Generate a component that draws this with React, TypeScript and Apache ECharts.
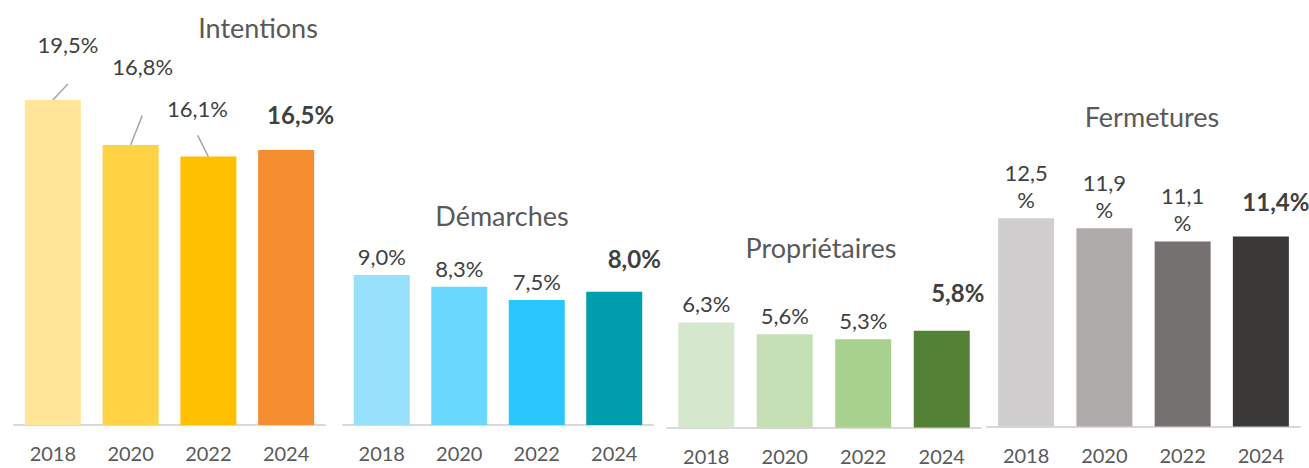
import React, { useEffect, useRef } from "react";
import * as echarts from "echarts";

// ---- Data ----
const years = ["2018", "2020", "2022", "2024"];
const intentions = [19.5, 16.8, 16.1, 16.5];
const demarches = [9.0, 8.3, 7.5, 8.0];
const proprietaires = [6.3, 5.6, 5.3, 5.8];
const fermetures = [12.5, 11.9, 11.1, 11.4];
const panelTitles = ["Intentions", "Démarches", "Propriétaires", "Fermetures"];
const panelValues = [intentions, demarches, proprietaires, fermetures];

// ---- Styles / layout ----
const barColors = [
  ["#FFE699", "#FFD344", "#FFC000", "#F68D2E"],
  ["#97E1FD", "#69D7FE", "#29C7FE", "#009DAC"],
  ["#D5E8CD", "#C5E0B4", "#A9D18E", "#538135"],
  ["#D0CECE", "#AFABAB", "#767171", "#3B3838"],
];
const W = 1309;
const H = 468;
const PX_PER_UNIT = 16.67;
const Y_MAX = 25;
const FONT = "Lato, 'Open Sans', sans-serif";
const panels = [
  { left: 14, width: 311, baseline: 425, titleX: 258, titleY: 27, wrap: false },
  { left: 343, width: 310, baseline: 425, titleX: 502, titleY: 215, wrap: false },
  { left: 667, width: 314, baseline: 427.5, titleX: 821, titleY: 247, wrap: false },
  { left: 987, width: 313, baseline: 426.5, titleX: 1152, titleY: 116, wrap: true },
];
const labelOffsets = [
  [[15, -37], [12, -60], [-11, -30], [14.5, -16.5]],
  [[0, 0], [0, 0], [0, 0], [20, -14.5]],
  [[0, 0], [0, 0], [0, 0], [16, -19.5]],
  [[0, 0], [0, 0], [0, 0], [15, -16.5]],
];
const leaderOffsets = [
  [15, -16],
  [11.6, -29.3],
  [-10.7, -21.3],
];
const HIGHLIGHT = 3;

const fmt = (v: number, wrap: boolean) =>
  v.toFixed(1).replace(".", ",") + (wrap ? "\n%" : "%");

export default function App() {
  const ref = useRef<HTMLDivElement>(null);
  useEffect(() => {
    if (!ref.current) return;
    const chart = echarts.init(ref.current, undefined, { renderer: "svg" });

    const grid = panels.map((p) => ({
      left: p.left,
      width: p.width,
      top: p.baseline - Y_MAX * PX_PER_UNIT,
      bottom: H - p.baseline,
    }));
    const xAxis = panels.map((_, i) => ({
      type: "category",
      gridIndex: i,
      data: years,
      axisTick: { show: false },
      axisLine: { show: true, lineStyle: { color: "#D9D9D9", width: 2 } },
      axisLabel: { color: "#595959", fontSize: 20, fontFamily: FONT, margin: 18 },
      splitLine: { show: false },
    }));
    const yAxis = panels.map((_, i) => ({
      type: "value",
      gridIndex: i,
      min: 0,
      max: Y_MAX,
      show: false,
      splitLine: { show: false },
    }));
    const barSeries = panels.map((p, i) => ({
      type: "bar",
      xAxisIndex: i,
      yAxisIndex: i,
      barWidth: 56,
      data: panelValues[i].map((v, j) => ({
        value: v,
        itemStyle: { color: barColors[i][j] },
        label: {
          offset: labelOffsets[i][j],
          fontWeight: j === HIGHLIGHT ? "bold" : "normal",
          fontSize: j === HIGHLIGHT ? 24 : 22,
          color: "#404040",
        },
      })),
      label: {
        show: true,
        position: "top",
        distance: 5,
        fontFamily: FONT,
        lineHeight: 27,
        align: "center",
        formatter: (prm: any) => fmt(prm.value, p.wrap && prm.dataIndex !== HIGHLIGHT),
      },
    }));
    const leaderSeries = {
      type: "custom",
      xAxisIndex: 0,
      yAxisIndex: 0,
      silent: true,
      z: 5,
      data: intentions.slice(0, leaderOffsets.length).map((v, j) => [j, v]),
      renderItem: (params: any, api: any) => {
        const idx = params.dataIndex;
        const pt = api.coord([api.value(0), api.value(1)]);
        const [dx, dy] = leaderOffsets[idx];
        return {
          type: "line",
          shape: { x1: pt[0], y1: pt[1], x2: pt[0] + dx, y2: pt[1] + dy },
          style: { stroke: "#A6A6A6", lineWidth: 1.5 },
        };
      },
    };
    const titles = panels.map((p, i) => ({
      type: "text",
      x: p.titleX,
      y: p.titleY,
      style: {
        text: panelTitles[i],
        fill: "#595959",
        fontSize: 27,
        fontFamily: FONT,
        align: "center",
        verticalAlign: "middle",
      },
    }));

    chart.setOption({
      animation: false,
      backgroundColor: "#FFFFFF",
      grid,
      xAxis,
      yAxis,
      series: [...barSeries, leaderSeries],
      graphic: titles,
      tooltip: { show: false },
      legend: { show: false },
    });
    return () => chart.dispose();
  }, []);
  return (
    <div
      ref={ref}
      style={{ position: "absolute", left: 0, top: 0, width: W, height: H }}
    />
  );
}
